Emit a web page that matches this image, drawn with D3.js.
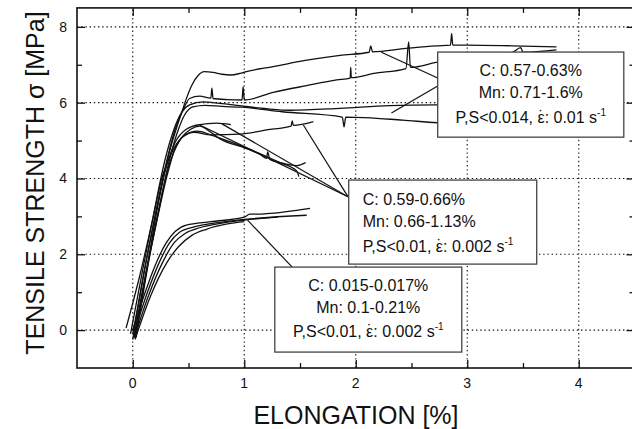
<!DOCTYPE html>
<html>
<head>
<meta charset="utf-8">
<script src="https://cdn.jsdelivr.net/npm/d3@7"></script>
<style>
  body { margin: 0; background: #fff; }
  text { font-family: "Liberation Sans", Arial, sans-serif; }
</style>
</head>
<body>
<div id="chart"></div>
<script>
// tick values
var xMajor = [0, 1, 2, 3, 4];
var xMinor = [0.5, 1.5, 2.5, 3.5];
var yMajor = [0, 2, 4, 6, 8];
var yMinor = [1, 3, 5, 7];

// C: 0.57-0.63% group
var curveA1 = [[0.02,-0.2],[0.12,1.5],[0.22,3.2],[0.32,4.6],[0.40,5.4],[0.44,5.75],[0.48,6.1],[0.53,6.46],[0.59,6.73],[0.64,6.82],[0.72,6.8],[0.80,6.75],[0.88,6.73],[0.96,6.77],[1.02,6.82],[1.26,6.95],[1.56,7.12],[1.86,7.25],[2.12,7.33],[2.135,7.5],[2.15,7.34],[2.45,7.43],[2.72,7.5],[2.85,7.52],[2.86,7.83],[2.87,7.52],[3.0,7.52],[3.4,7.5],[3.8,7.47]];
var curveA2 = [[0.0,-0.25],[0.1,1.5],[0.2,3.0],[0.3,4.4],[0.38,5.3],[0.45,5.8],[0.51,6.11],[0.6,6.17],[0.70,6.12],[0.71,6.38],[0.72,6.11],[0.85,6.08],[0.98,6.07],[0.99,6.42],[1.0,6.07],[1.26,6.27],[1.56,6.45],[1.83,6.6],[1.95,6.65],[1.955,6.93],[1.96,6.66],[2.16,6.77],[2.45,6.9],[2.475,7.6],[2.49,6.93],[2.72,7.06],[3.0,7.2],[3.4,7.32],[3.48,7.45],[3.5,7.33],[3.8,7.39]];
var curveA3 = [[-0.02,-0.1],[0.09,1.6],[0.19,3.1],[0.29,4.5],[0.37,5.3],[0.44,5.75],[0.51,5.94],[0.63,6.02],[0.78,5.98],[0.96,5.92],[1.2,5.84],[1.41,5.8],[1.86,5.85],[2.3,5.92],[2.72,5.94],[3.0,5.94]];
var curveA4 = [[0.03,-0.2],[0.13,1.6],[0.23,3.1],[0.33,4.5],[0.41,5.3],[0.47,5.7],[0.54,5.89],[0.65,5.93],[0.8,5.9],[0.98,5.88],[1.34,5.76],[1.88,5.62],[1.895,5.36],[1.91,5.62],[2.42,5.54],[2.73,5.47],[3.0,5.45]];

// C: 0.59-0.66% group
var curveB1 = [[0.01,-0.2],[0.11,1.4],[0.21,2.8],[0.31,4.1],[0.38,4.8],[0.45,5.1],[0.55,5.22],[0.7,5.15],[0.96,5.17],[1.2,5.28],[1.42,5.38],[1.43,5.52],[1.44,5.4],[1.62,5.5]];
var curveB2 = [[0.0,-0.1],[0.1,1.5],[0.2,3.0],[0.3,4.3],[0.38,4.95],[0.48,5.3],[0.6,5.42],[0.75,5.46],[0.88,5.42]];
var curveB3 = [[0.02,-0.2],[0.12,1.5],[0.22,3.0],[0.32,4.3],[0.42,5.0],[0.52,5.3],[0.6,5.38],[0.7,5.22],[0.78,5.05],[1.02,4.79],[1.15,4.62],[1.2,4.53],[1.21,4.7],[1.23,4.5],[1.32,4.42],[1.47,4.34],[1.55,4.42]];
var curveB4 = [[-0.06,0.05],[0.06,1.4],[0.17,2.8],[0.27,4.1],[0.37,4.8],[0.47,5.15],[0.58,5.25],[0.7,5.15],[0.87,4.97],[1.17,4.62],[1.32,4.42],[1.47,4.2],[1.49,4.05]];

// C: 0.015-0.017% group
var curveC1 = [[0.0,0.0],[0.1,0.9],[0.2,1.7],[0.3,2.3],[0.38,2.6],[0.48,2.77],[0.7,2.86],[1.0,2.98],[1.05,3.06],[1.12,3.06],[1.2,3.07],[1.59,3.21]];
var curveC2 = [[0.01,-0.1],[0.12,0.9],[0.24,1.8],[0.33,2.3],[0.42,2.58],[0.55,2.72],[0.8,2.85],[1.0,2.92],[1.56,3.03]];
var curveC3 = [[0.015,-0.2],[0.14,0.9],[0.27,1.8],[0.37,2.3],[0.47,2.55],[0.6,2.7],[0.8,2.82],[1.0,2.9],[1.3,2.98]];
var curveC4 = [[0.02,-0.25],[0.16,0.9],[0.31,1.8],[0.41,2.2],[0.53,2.5],[0.66,2.66],[0.85,2.8],[1.0,2.86]];

// legend texts: [line1, line2, third line before epsilon, third line after epsilon]
var legend1 = ["C: 0.57-0.63%", "Mn: 0.71-1.6%", "P,S<0.014, ", ": 0.01 s"];
var legend2 = ["C: 0.59-0.66%", "Mn: 0.66-1.13%", "P,S<0.01, ", ": 0.002 s"];
var legend3 = ["C: 0.015-0.017%", "Mn: 0.1-0.21%", "P,S<0.01, ", ": 0.002 s"];

// leader lines (data units)
var leaders1 = [[[2.735,6.65],[2.23,7.33]], [[2.735,6.44],[2.32,5.73]]];
var leaders2 = [[[1.93,3.52],[1.53,5.41]], [[1.93,3.52],[0.6,5.41]], [[1.93,3.52],[0.8,5.44]]];
var leaders3 = [[[1.43,1.66],[1.03,2.90]]];

var width = 632, height = 429;
var svg = d3.select("#chart").append("svg")
    .attr("width", width)
    .attr("height", height)
    .style("background", "#fff");

var x = d3.scaleLinear().domain([-0.5, 4.5]).range([77, 634.5]);
var y = d3.scaleLinear().domain([-1, 8.5]).range([368, 7.9]);

// grid
var grid = svg.append("g").attr("stroke", "#111").attr("stroke-width", 1.1).attr("stroke-dasharray", "1.4,2.8");
grid.selectAll(".gx").data(xMajor).enter().append("line")
    .attr("x1", d => x(d)).attr("x2", d => x(d))
    .attr("y1", y.range()[0]).attr("y2", y.range()[1]);
grid.selectAll(".gy").data(yMajor).enter().append("line")
    .attr("x1", x.range()[0]).attr("x2", x.range()[1])
    .attr("y1", d => y(d)).attr("y2", d => y(d));

// curves
var line = d3.line().x(d => x(d[0])).y(d => y(d[1])).curve(d3.curveMonotoneX);
var curves = [curveA1, curveA2, curveA3, curveA4, curveB1, curveB2, curveB3, curveB4, curveC1, curveC2, curveC3, curveC4];
svg.append("g").selectAll("path").data(curves).enter().append("path")
    .attr("d", line)
    .attr("fill", "none")
    .attr("stroke", "#111")
    .attr("stroke-width", 1.3);

// leader lines
var leaders = leaders1.concat(leaders2, leaders3);
svg.append("g").selectAll("line").data(leaders).enter().append("line")
    .attr("x1", d => x(d[0][0])).attr("y1", d => y(d[0][1]))
    .attr("x2", d => x(d[1][0])).attr("y2", d => y(d[1][1]))
    .attr("stroke", "#111").attr("stroke-width", 1.2);

// legend boxes
function box(x0, y0, x1, y1, lines, align, dx, baselines){
    var g = svg.append("g");
    var bx = x(x0), by = y(y0), bw = x(x1) - x(x0), bh = y(y1) - y(y0);
    g.append("rect").attr("x", bx).attr("y", by).attr("width", bw).attr("height", bh)
        .attr("fill", "#fff").attr("stroke", "#444").attr("stroke-width", 1.3);
    for (var i = 0; i < 3; i++) {
        var tx = align == "middle" ? bx + bw / 2 : bx + dx;
        var txt = g.append("text")
            .attr("x", tx).attr("y", by + baselines[i])
            .attr("text-anchor", align)
            .style("font-size", "16px")
            .attr("fill", "#111");
        if (i < 2) {
            txt.text(lines[i]);
        } else {
            txt.append("tspan").text(lines[2]);
            txt.append("tspan").text("\u03B5");
            txt.append("tspan").attr("dx", -6.2).attr("dy", -1).text("\u02D9");
            txt.append("tspan").attr("dx", 0.9).attr("dy", 1).text(lines[3]);
            txt.append("tspan").attr("dy", -7).style("font-size", "10px").text("-1");
        }
    }
}
box(2.735, 7.335, 4.404, 5.09, legend1, "middle", 0, [24, 46, 71]);
box(1.937, 3.958, 3.623, 1.741, legend2, "start", 14, [25, 47, 72]);
box(1.274, 1.662, 2.951, -0.58, legend3, "middle", 0, [24, 46, 70]);

// axes frame with inward ticks
function ticks(axisGen, transform, vals, size){
    svg.append("g").attr("transform", transform)
        .call(axisGen.tickValues(vals).tickSize(size).tickFormat(""))
        .call(g => g.select(".domain").remove())
        .selectAll("line").attr("stroke", "#111").attr("stroke-width", 1.3);
}
var yb = y(-1), yt = y(8.5), xl = x(-0.5), xr = x(4.5);
ticks(d3.axisBottom(x), "translate(0," + yb + ")", xMajor, -8);
ticks(d3.axisBottom(x), "translate(0," + yb + ")", xMinor, -5);
ticks(d3.axisTop(x), "translate(0," + yt + ")", xMajor, -8);
ticks(d3.axisTop(x), "translate(0," + yt + ")", xMinor, -5);
ticks(d3.axisLeft(y), "translate(" + xl + ",0)", yMajor, -8);
ticks(d3.axisLeft(y), "translate(" + xl + ",0)", yMinor, -5);
ticks(d3.axisRight(y), "translate(" + xr + ",0)", yMajor, -8);
ticks(d3.axisRight(y), "translate(" + xr + ",0)", yMinor, -5);

svg.append("rect").attr("x", xl).attr("y", yt).attr("width", xr - xl).attr("height", yb - yt)
    .attr("fill", "none").attr("stroke", "#111").attr("stroke-width", 1.6);

// tick labels
svg.append("g").selectAll("text").data(xMajor).enter().append("text")
    .attr("x", d => x(d)).attr("y", 388)
    .attr("text-anchor", "middle").style("font-size", "14px").attr("fill", "#111")
    .text(d => d);
svg.append("g").selectAll("text").data(yMajor).enter().append("text")
    .attr("x", 67).attr("y", d => y(d) + 5)
    .attr("text-anchor", "end").style("font-size", "14px").attr("fill", "#111")
    .text(d => d);

// axis titles
svg.append("text")
    .attr("x", 356).attr("y", 424)
    .attr("text-anchor", "middle").style("font-size", "25px").attr("fill", "#111")
    .text("ELONGATION [%]");
svg.append("text")
    .attr("transform", "translate(44,183) rotate(-90)")
    .attr("text-anchor", "middle").style("font-size", "25px").attr("fill", "#111")
    .text("TENSILE STRENGTH \u03C3 [MPa]");
</script>
</body>
</html>
